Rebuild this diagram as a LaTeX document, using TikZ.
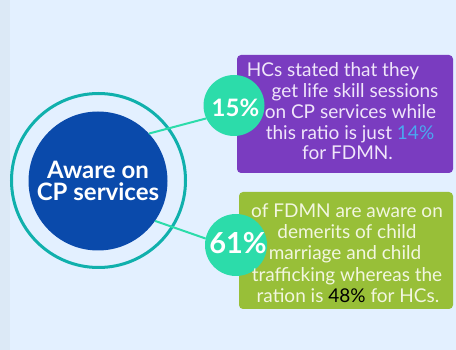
\documentclass[tikz,border=0pt]{standalone}
\usepackage{fontspec}
\setmainfont{Lato}
\definecolor{bgc}{HTML}{E3F0FF}
\definecolor{stripc}{HTML}{DCE9F6}
\definecolor{ringc}{HTML}{10B0AC}
\definecolor{bluec}{HTML}{0A4AAB}
\definecolor{mintc}{HTML}{2CDCAA}
\definecolor{purplec}{HTML}{7A3CC0}
\definecolor{greenc}{HTML}{98BF38}
\definecolor{ptext}{HTML}{F0E6FA}
\definecolor{gtext}{HTML}{F2F6E0}
\definecolor{skyc}{HTML}{4AA8F0}
\tikzset{
  x=1pt,y=-1pt,
  disc/.style={circle,inner sep=0pt,outer sep=0pt,fill=#1},
  panel/.style={rectangle,rounded corners=4pt,inner sep=0pt,outer sep=0pt,anchor=north west,fill=#1},
  linetext/.style={anchor=base,inner sep=0pt,outer sep=0pt,text=#1,font=\fontsize{19}{21}\selectfont},
  pct/.style={text=white,font=\fontsize{24}{26}\selectfont\bfseries,inner sep=0pt},
  link/.style={draw=mintc,line width=2pt}
}
\begin{document}
\begin{tikzpicture}
\useasboundingbox (0,0) rectangle (456,350);
\fill[bgc] (0,0) rectangle (456,350);
\fill[stripc] (0,0) rectangle (10,350);
\node[draw=ringc,line width=3pt,circle,minimum size=174pt,inner sep=0pt] (ring) at (98.5,180.5) {};
\node[disc=bluec,minimum size=139pt,align=center,text=white,font=\fontsize{24}{22}\selectfont\bfseries] (core) at (98,181) {Aware on\\CP services};
\node[panel=purplec,minimum width=216pt,minimum height=118pt] (pbox) at (237,55) {};
\node[panel=greenc,minimum width=214pt,minimum height=117pt] (gbox) at (239,192) {};
\node[disc=mintc,minimum size=61pt] (pa) at (234,105.5) {};
\node[disc=mintc,minimum size=62pt] (pb) at (236,245) {};
\draw[link] (core.43) -- (pa.205);
\draw[link] (core.-35) -- (pb.168);
\node[pct] (pat) at (235.5,107.5) {15\%};
\node[pct,font=\fontsize{29}{31}\selectfont\bfseries] (pbt) at (238,243) {61\%};
\node[linetext=ptext] (p1) at (333,77) {HCs stated that they};
\node[linetext=ptext] (p2) at (355,98) {get life skill sessions};
\node[linetext=ptext] (p3) at (350.5,119) {on CP services while};
\node[linetext=ptext] (p4) at (350,140) {this ratio is just \textcolor{skyc}{14\%}};
\node[linetext=ptext] (p5) at (347.5,160) {for FDMN.};
\node[linetext=gtext] (g1) at (347,218) {of FDMN are aware on};
\node[linetext=gtext] (g2) at (347,239) {demerits of child};
\node[linetext=gtext] (g3) at (345,260) {marriage and child};
\node[linetext=gtext] (g4) at (347,282) {trafficking whereas the};
\node[linetext=gtext] (g5) at (348,303) {ration is \textcolor{black}{48\%} for HCs.};
\end{tikzpicture}
\end{document}
